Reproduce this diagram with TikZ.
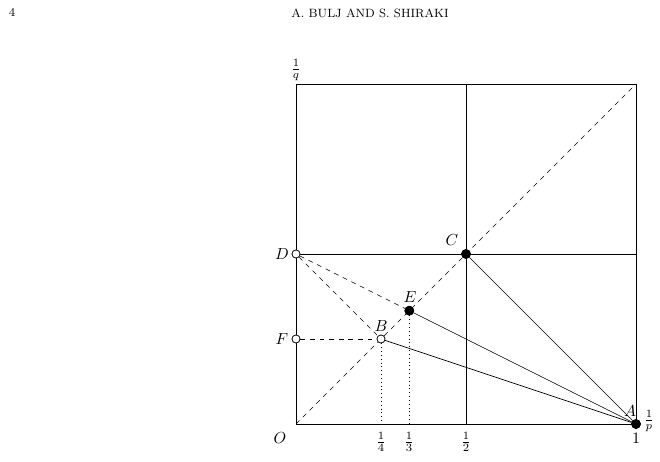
\documentclass[tikz,border=0pt]{standalone}
\begin{document}
\begin{tikzpicture}[x=0.625pt,y=-0.625pt,
  filled/.style={circle,fill=black,draw=black,inner sep=0pt,minimum size=5.6pt},
  hollow/.style={circle,fill=white,draw=black,inner sep=0pt,minimum size=5pt},
  lab/.style={inner sep=1pt},
  grid/.style={line width=0.4pt},
  dashline/.style={dashed,line width=0.4pt},
  dotline/.style={dotted,line width=0.4pt},
  head/.style={font=\fontsize{7.5}{9}\selectfont}]
\useasboundingbox (0,0) rectangle (660,462);
\node[head] (pg) at (12,12) {4};
\node[head] (hd) at (370,13) {A. BULJ AND S. SHIRAKI};
% corners
\coordinate (O) at (296,424);
\coordinate (T) at (636,84);
\coordinate (Mt) at (466,84);
\coordinate (Mb) at (466,424);
\coordinate (Mr) at (636,254);
\coordinate (Bb) at (381,424);
\coordinate (Eb) at (409.33,424);
% square and grid
\draw[grid] (O) rectangle (T);
\draw[grid] (Mt) -- (Mb);
% diagonal
\draw[dashline] (O) -- (T);
% points
\node[hollow] (D) at (296,254) {};
\node[hollow] (F) at (296,339) {};
\node[hollow] (B) at (381,339) {};
\node[filled] (E) at (409.33,310.67) {};
\node[filled] (C) at (466,254) {};
\node[filled] (A) at (636,424) {};
\draw[grid] (D) -- (Mr);
% dashed lines
\draw[dashline] (D) -- (B);
\draw[dashline] (D) -- (E);
\draw[dashline] (F) -- (B);
% solid lines
\draw[grid] (C) -- (A);
\draw[grid] (E) -- (A);
\draw[grid] (B) -- (A);
% dotted
\draw[dotline] (B) -- (Bb);
\draw[dotline] (E) -- (Eb);
% redraw points on top
\node[hollow] at (D) {};
\node[hollow] at (F) {};
\node[hollow] at (B) {};
\node[filled] at (E) {};
\node[filled] at (C) {};
\node[filled] at (A) {};
% labels
\node[lab] (lC) at (452,240) {$C$};
\node[lab] (lD) at (282,254) {$D$};
\node[lab] (lE) at (410,297) {$E$};
\node[lab] (lF) at (282,339) {$F$};
\node[lab] (lB) at (381,326) {$B$};
\node[lab] (lA) at (630,411) {$A$};
\node[lab] (l1) at (636,438) {$1$};
\node[lab] (lp) at (649,421) {$\frac{1}{p}$};
\node[lab] (lq) at (296,70) {$\frac{1}{q}$};
\node[lab] (lO) at (280,438) {$O$};
\node[lab] (l4) at (381,442) {$\frac{1}{4}$};
\node[lab] (l3) at (409,442) {$\frac{1}{3}$};
\node[lab] (l2) at (466,442) {$\frac{1}{2}$};
\end{tikzpicture}
\end{document}
